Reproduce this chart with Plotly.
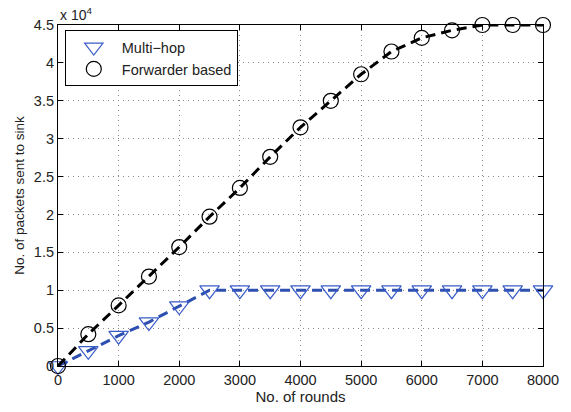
import plotly.graph_objects as go

rounds = [0, 500, 1000, 1500, 2000, 2500, 3000, 3500, 4000, 4500, 5000, 5500, 6000, 6500, 7000, 7500, 8000]
multi_hop = [0, 2000, 4000, 5800, 7900, 10000, 10000, 10000, 10000, 10000, 10000, 10000, 10000, 10000, 10000, 10000, 10000]
forwarder = [0, 4200, 8000, 11800, 15700, 19700, 23500, 27600, 31500, 35000, 38500, 41500, 43300, 44300, 45000, 45000, 45000]

x_ticks = [0, 1000, 2000, 3000, 4000, 5000, 6000, 7000, 8000]
y_ticks = [0, 5000, 10000, 15000, 20000, 25000, 30000, 35000, 40000, 45000]
y_labels = ["0", "0.5", "1", "1.5", "2", "2.5", "3", "3.5", "4", "4.5"]

FONT = "Liberation Sans, Arial, Helvetica"
blue_line = "#2d4fb0"
blue_mark = "#3a5cc8"

fig = go.Figure()
fig.add_trace(go.Scatter(
    x=rounds, y=multi_hop, mode="lines+markers", cliponaxis=False, showlegend=False,
    line=dict(color=blue_line, width=3, dash="10px,6px"),
    marker=dict(symbol="triangle-down-open", size=17, color=blue_mark, line=dict(width=1.2))))
fig.add_trace(go.Scatter(
    x=rounds, y=forwarder, mode="lines+markers", cliponaxis=False, showlegend=False,
    line=dict(color="black", width=3, dash="10px,6px"),
    marker=dict(symbol="circle-open", size=15, color="black", line=dict(width=1.2))))
fig.add_trace(go.Scatter(
    x=[None], y=[None], mode="markers", name="Multi\u2212hop",
    marker=dict(symbol="triangle-down-open", size=17, color=blue_mark, line=dict(width=1.2))))
fig.add_trace(go.Scatter(
    x=[None], y=[None], mode="markers", name="Forwarder based",
    marker=dict(symbol="circle-open", size=15, color="black", line=dict(width=1.2))))

axis_common = dict(
    showline=True, linecolor="black", linewidth=1.2, mirror="ticks",
    ticks="inside", ticklen=5, tickcolor="black",
    showgrid=True, gridcolor="#888888", griddash="1px,4px", gridwidth=1,
    zeroline=False, tickfont=dict(family=FONT, size=14.5, color="#222222"),
    ticklabeloverflow="allow",
)
fig.update_xaxes(range=[0, 8000], tickvals=x_ticks, ticktext=[str(v) for v in x_ticks],
                 title=dict(text="No. of rounds", font=dict(family=FONT, size=15, color="#222222"), standoff=2),
                 **axis_common)
fig.update_yaxes(range=[0, 45000], tickvals=y_ticks, ticktext=y_labels,
                 title=dict(text="No. of packets sent to sink", font=dict(family=FONT, size=13.5, color="#222222"), standoff=6),
                 **axis_common)
fig.add_annotation(text="x 10<sup>4</sup>", xref="paper", yref="paper", x=0, y=1.0,
                   xanchor="left", yanchor="bottom", showarrow=False, yshift=0,
                   font=dict(family=FONT, size=14, color="#222222"))
fig.update_layout(
    width=571, height=412, margin=dict(l=58, r=16, t=25, b=40),
    plot_bgcolor="white", paper_bgcolor="white",
    legend=dict(x=0.014, y=0.985, xanchor="left", yanchor="top", bgcolor="white",
                bordercolor="black", borderwidth=1,
                font=dict(family=FONT, size=14.5, color="#222222"),
                tracegroupgap=0, itemwidth=46),
)
fig.write_html("out.html")
